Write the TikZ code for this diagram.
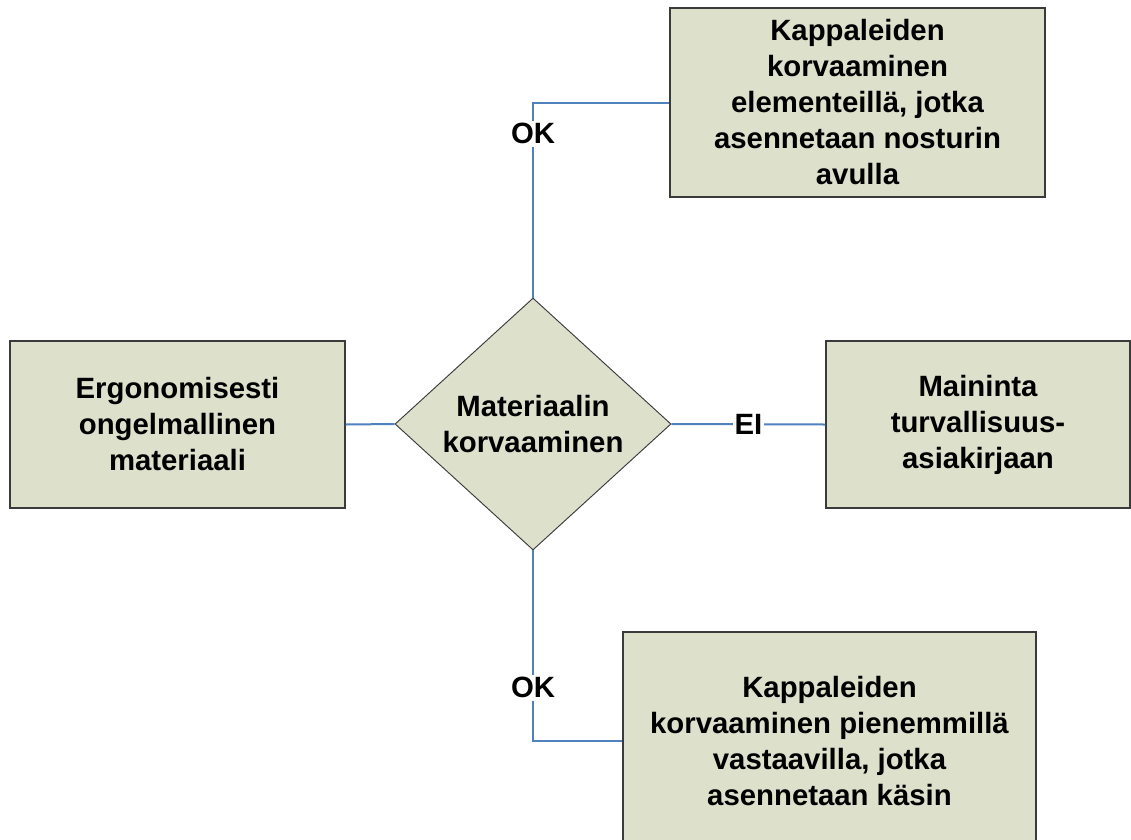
\documentclass[tikz,border=0pt]{standalone}
\usepackage{fontspec}
\setmainfont{Liberation Sans}
\usetikzlibrary{shapes.geometric}
\definecolor{boxfill}{HTML}{DDE0CB}
\definecolor{boxline}{HTML}{3A3A3A}
\definecolor{connblue}{HTML}{4F81BD}
\tikzset{
  box/.style={draw=boxline, line width=0.9pt, fill=boxfill, rectangle, inner sep=0pt},
  dia/.style={draw=boxline, line width=0.7pt, fill=boxfill, diamond, inner sep=0pt, aspect=1.1},
  txt/.style={align=center, font=\fontsize{22}{27}\selectfont\bfseries, inner sep=0pt},
  conn/.style={draw=connblue, line width=1.5pt},
  lbl/.style={fill=white, font=\fontsize{22}{27}\selectfont\bfseries, inner sep=2pt}
}
\begin{document}
\begin{tikzpicture}[x=0.75pt, y=-0.75pt]
\clip (0,0) rectangle (1131,839);
\fill[white] (0,0) rectangle (1131,839);
\node[box, minimum width=281.25pt, minimum height=141.75pt] (top) at (857.5,102.5) {};
\node[txt] at (top) {Kappaleiden\\korvaaminen\\elementeillä, jotka\\asennetaan nosturin\\avulla};
\node[box, minimum width=251.25pt, minimum height=125.25pt] (left) at (177.5,424.5) {};
\node[txt] at (left) {Ergonomisesti\\ongelmallinen\\materiaali};
\node[box, minimum width=228pt, minimum height=125.25pt] (right) at (978,424.5) {};
\node[txt] at (right) {Maininta\\turvallisuus-\\asiakirjaan};
\node[box, minimum width=309.75pt, minimum height=163.5pt] (bot) at (829.5,741) {};
\node[txt] at (bot) {Kappaleiden\\korvaaminen pienemmillä\\vastaavilla, jotka\\asennetaan käsin};
\node[dia, minimum width=207pt, minimum height=189pt] (d) at (533,424) {};
\node[txt] at (d) {Materiaalin\\korvaaminen};
\draw[conn] (d.north) |- node[lbl, pos=0.42] {OK} (top.west);
\draw[conn] (left.east) -- (d.west);
\draw[conn] (d.east) -- node[lbl, pos=0.5, inner sep=1pt] {EI} (right.west);
\draw[conn] (d.south) |- node[lbl, pos=0.36] {OK} (bot.west);
\end{tikzpicture}
\end{document}
